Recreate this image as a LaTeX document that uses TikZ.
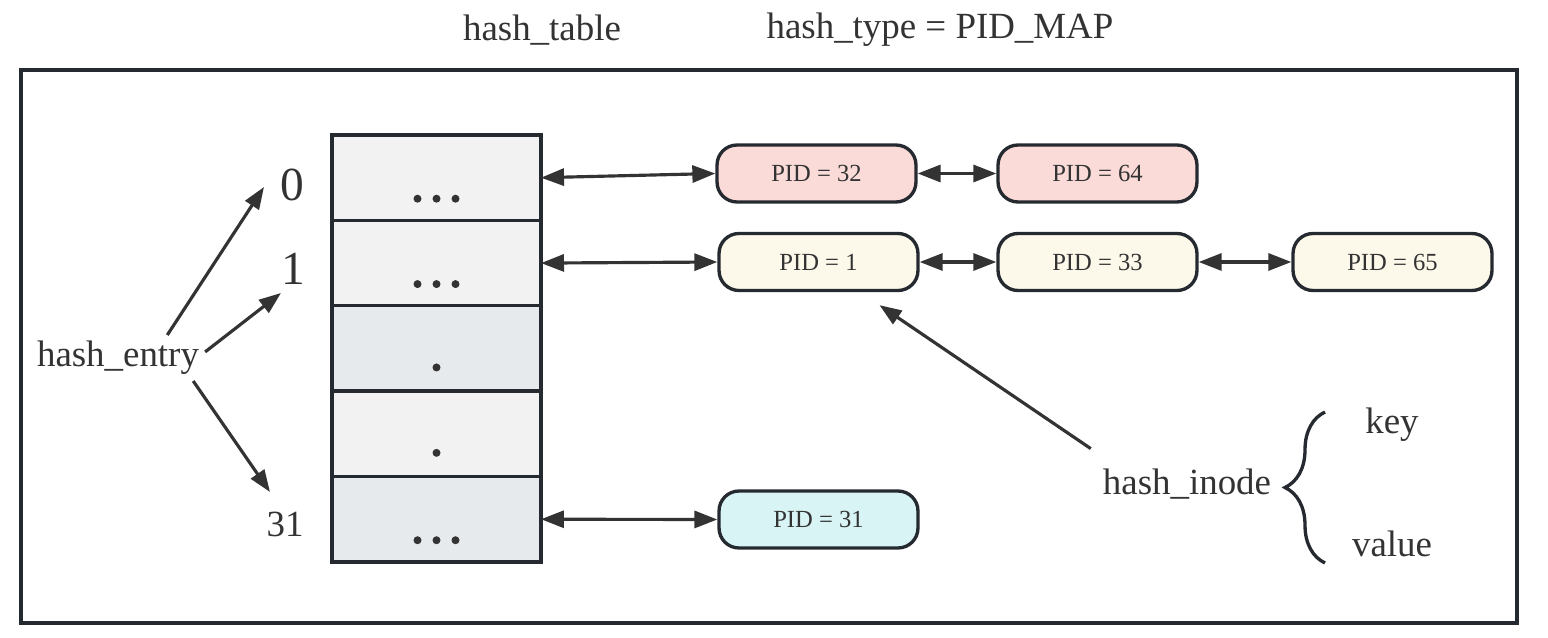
\documentclass[tikz,border=0pt]{standalone}
\usepackage{fontspec}
\setmainfont{Liberation Serif}
\usepackage{tikz}
\usetikzlibrary{arrows.meta,positioning,calc,decorations.pathreplacing}

\definecolor{inkgray}{HTML}{333333}
\definecolor{edgegray}{HTML}{252A30}
\definecolor{celllight}{HTML}{F2F2F2}
\definecolor{celldark}{HTML}{E7EAED}
\definecolor{pidpink}{HTML}{FADBD8}
\definecolor{pidcream}{HTML}{FCF8EA}
\definecolor{pidcyan}{HTML}{D9F4F4}

\begin{document}
\begin{tikzpicture}[x=0.02cm,y=-0.02cm,
    cellbox/.style={draw=edgegray,line width=1.9pt,minimum width=4.18cm,minimum height=1.708cm,inner sep=0pt,outer sep=0pt},
    pidnode/.style={draw=edgegray,line width=1.9pt,rounded corners=0.4cm,minimum width=3.98cm,minimum height=1.14cm,font=\fontsize{14}{16}\selectfont,text=inkgray},
    lbl/.style={font=\fontsize{21}{25}\selectfont,text=inkgray},
    link/.style={draw=inkgray,line width=1.8pt,{Triangle[length=4.6mm,width=3.4mm]}-{Triangle[length=4.6mm,width=3.4mm]}},
    pointer/.style={draw=inkgray,line width=1.8pt,-{Triangle[length=4.4mm,width=3.2mm]}}]
    \useasboundingbox (0,0) rectangle (1548,638);
    \draw[edgegray,line width=2.3pt] (21,70) rectangle (1517,623);
    % titles
    \node[lbl] (tabtitle) at (542,30) {hash\_table};
    \node[lbl] (typetitle) at (940,30) {hash\_type = PID\_MAP};
    % the table
    \node[cellbox,fill=celllight] (c0) at (436.5,177.7) {};
    \node[cellbox,fill=celllight,below=0pt of c0] (c1) {};
    \node[cellbox,fill=celldark,below=0pt of c1] (c2) {};
    \node[cellbox,fill=celllight,below=0pt of c2] (c3) {};
    \node[cellbox,fill=celldark,below=0pt of c3] (c4) {};
    \foreach \c in {c0,c1,c4}
        \foreach \dx in {-19,0,19}
            \fill[inkgray] ($(\c)+(\dx,21)$) circle (0.08cm);
    \foreach \c in {c2,c3}
        \fill[inkgray] ($(\c)+(0,19)$) circle (0.08cm);
    % indices
    \node[text=inkgray,font=\fontsize{27}{30}\selectfont] (l0) at (292,185) {0};
    \node[text=inkgray,font=\fontsize{27}{30}\selectfont] (l1) at (293,269) {1};
    \node[lbl] (l31) at (285,524) {31};
    \node[lbl] (he) at (118,358) {hash\_entry};
    \coordinate (e0) at (264,187);
    \coordinate (e1) at (281,293);
    \coordinate (e31) at (270,492);
    \draw[pointer] (he.25) -- (e0);
    \draw[pointer] (he.4) -- (e1);
    \draw[pointer] (he.-17) -- (e31);
    % pid lists
    \node[pidnode,fill=pidpink] (p32) at (816.5,173.5) {PID = 32};
    \node[pidnode,fill=pidpink] (p64) at (1097.5,173.5) {PID = 64};
    \node[pidnode,fill=pidcream] (p1) at (818.5,262) {PID = 1};
    \node[pidnode,fill=pidcream] (p33) at (1097.5,262) {PID = 33};
    \node[pidnode,fill=pidcream] (p65) at (1392.5,262) {PID = 65};
    \node[pidnode,fill=pidcyan] (p31) at (818.5,519.5) {PID = 31};
    \draw[link] (c0.east) -- (p32.west);
    \draw[link] (p32.east) -- (p64.west);
    \draw[link] (c1.east) -- (p1.west);
    \draw[link] (p1.east) -- (p33.west);
    \draw[link] (p33.east) -- (p65.west);
    \draw[link] (c4.east) -- (p31.west);
    % inode
    \node[lbl] (hi) at (1187,484) {hash\_inode};
    \draw[pointer] ($(hi.north west)+(-6,-14)$) -- ($(p1.south)+(61,13)$);
    \node[lbl] (key) at (1392,425) {key};
    \node[lbl] (val) at (1392,544) {value};
    \coordinate (bbot) at (1325,563);
    \coordinate (btop) at (1325,412);
    \draw[edgegray,line width=1.9pt,decorate,decoration={brace,amplitude=0.8cm}] (bbot) -- (btop);
\end{tikzpicture}
\end{document}
